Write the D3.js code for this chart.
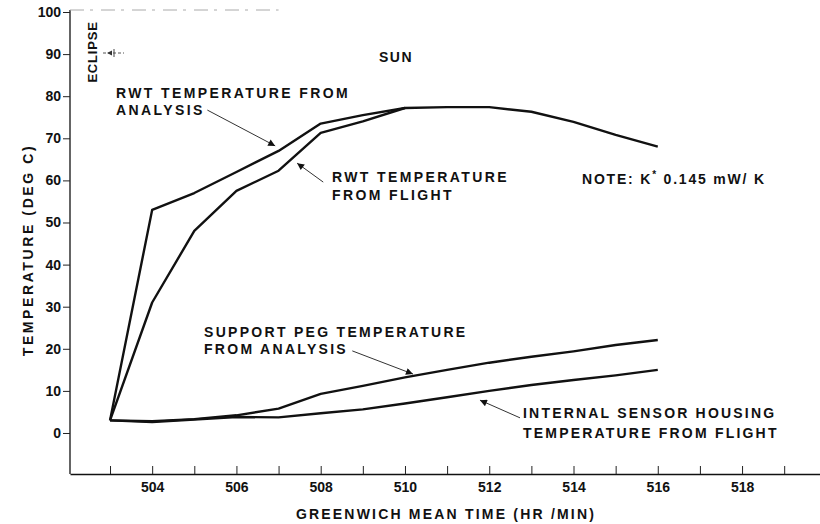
<!DOCTYPE html>
<html>
<head>
<meta charset="utf-8">
<script src="https://cdn.jsdelivr.net/npm/d3@7"></script>
<style>
  html, body { margin: 0; padding: 0; background: #fff; }
  svg { display: block; }
  text { font-family: "Liberation Sans", Arial, Helvetica, sans-serif; font-weight: bold; fill: #111; }
</style>
</head>
<body>
<svg id="chart" width="820" height="524"></svg>
<script>
// ---- Data ----
const times = [503, 504, 505, 506, 507, 508, 509, 510, 511, 512, 513, 514, 515, 516];
const rwtAnalysis = [3, 53, 57, 62, 67, 73.5, 75.5, 77.2, 77.4, 77.4, 76.3, 73.9, 70.8, 68];
const rwtFlightTimes = [503, 504, 505, 506, 507, 508, 509, 510];
const rwtFlight = [3, 31, 48, 57.5, 62.3, 71.3, 74, 77.2];
const pegAnalysis = [3, 2.8, 3.3, 4.2, 5.8, 9.3, 11.2, 13.2, 15, 16.7, 18.1, 19.4, 20.9, 22.1];
const sensorFlight = [3, 2.6, 3.2, 3.8, 3.7, 4.7, 5.6, 7, 8.5, 10, 11.4, 12.6, 13.7, 15];
const xTicks = [503, 504, 505, 506, 507, 508, 509, 510, 511, 512, 513, 514, 515, 516, 517, 518, 519];
const xTickLabels = [504, 506, 508, 510, 512, 514, 516, 518];
const yTicks = [0, 10, 20, 30, 40, 50, 60, 70, 80, 90, 100];

const svg = d3.select("#chart");

const x = d3.scaleLinear().domain([502.05, 519.85]).range([70, 820]);
const y = d3.scaleLinear().domain([-9.74, 100]).range([474, 12]);

// ---- Axes ----
const xAxis = d3.axisBottom(x)
  .tickValues(xTicks)
  .tickSizeInner(-8).tickSizeOuter(0)
  .tickFormat(d => xTickLabels.includes(d) ? String(d) : "");
const gx = svg.append("g").attr("transform", `translate(0,${y(-9.74)})`).call(xAxis);
gx.select(".domain").attr("stroke", "#111").attr("stroke-width", 1.3);
gx.selectAll(".tick line").attr("stroke", "#222").attr("stroke-width", 1);
gx.selectAll(".tick text").attr("dy", "0.4em").attr("y", 12)
  .style("font-size", "14px").style("font-family", "Liberation Sans, Arial, sans-serif").style("font-weight", "bold").attr("fill", "#111");

const yAxis = d3.axisLeft(y).tickValues(yTicks).tickSizeInner(7).tickSizeOuter(0).tickPadding(2);
const gy = svg.append("g").attr("transform", `translate(${x(502.05)},0)`).call(yAxis);
gy.select(".domain").attr("stroke", "#111").attr("stroke-width", 1.3)
  .attr("d", `M0,${y(-9.74)}V${y(100) - 2}`);
gy.selectAll(".tick line").attr("stroke", "#222").attr("stroke-width", 1);
gy.selectAll(".tick text")
  .style("font-size", "14px").style("font-family", "Liberation Sans, Arial, sans-serif").style("font-weight", "bold").attr("fill", "#111");

// faint top frame remnant
svg.append("line")
  .attr("x1", x(502.05)).attr("x2", x(507)).attr("y1", y(100) - 2).attr("y2", y(100) - 2)
  .attr("stroke", "#aaa").attr("stroke-width", 1).attr("stroke-dasharray", "14,6,3,8");

// ---- Axis titles ----
svg.append("text")
  .attr("x", 446).attr("y", 519).attr("text-anchor", "middle")
  .style("font-size", "14px").style("letter-spacing", "2.2px")
  .text("GREENWICH MEAN TIME (HR /MIN)");
svg.append("text")
  .attr("transform", "translate(33,250) rotate(-90)").attr("text-anchor", "middle")
  .style("font-size", "14px").style("letter-spacing", "2.6px")
  .text("TEMPERATURE (DEG C)");

// ---- Curves ----
const line = d3.line().x(d => x(d[0])).y(d => y(d[1]));
const series = [
  times.map((t, i) => [t, rwtAnalysis[i]]),
  rwtFlightTimes.map((t, i) => [t, rwtFlight[i]]),
  times.map((t, i) => [t, pegAnalysis[i]]),
  times.map((t, i) => [t, sensorFlight[i]])
];
svg.append("g").selectAll("path").data(series).join("path")
  .attr("d", line).attr("fill", "none").attr("stroke", "#111")
  .attr("stroke-width", 2.4).attr("stroke-linejoin", "round");

// ---- Arrow marker ----
svg.append("defs").append("marker")
  .attr("id", "ah").attr("viewBox", "0 0 10 10").attr("refX", 10).attr("refY", 5)
  .attr("markerWidth", 11).attr("markerHeight", 7).attr("markerUnits", "userSpaceOnUse")
  .attr("orient", "auto")
  .append("path").attr("d", "M0,0L10,5L0,10z").attr("fill", "#111");

const arrows = [
  { from: [505.31, 76.7], to: [506.92, 68.2] },
  { from: [508.06, 59.6], to: [507.44, 64.1] },
  { from: [508.75, 19.5], to: [510.19, 14.0] },
  { from: [512.73, 3.6], to: [511.78, 7.8] }
];
svg.append("g").selectAll("line").data(arrows).join("line")
  .attr("x1", d => x(d.from[0])).attr("y1", d => y(d.from[1]))
  .attr("x2", d => x(d.to[0])).attr("y2", d => y(d.to[1]))
  .attr("stroke", "#333").attr("stroke-width", 1).attr("marker-end", "url(#ah)");

// ---- Annotations ----
function label(lines, x0, y0, ls, dy) {
  const t = svg.append("text").attr("x", x0).attr("y", y0)
    .style("font-size", "14px").style("letter-spacing", ls + "px");
  lines.forEach((s, i) => t.append("tspan").attr("x", x0).attr("dy", i === 0 ? 0 : dy).text(s));
}
label(["RWT TEMPERATURE FROM", "ANALYSIS"], 116, 98, 2.4, 17);
label(["RWT TEMPERATURE", "FROM FLIGHT"], 332, 182, 2.4, 18);
label(["SUPPORT PEG TEMPERATURE", "FROM ANALYSIS"], 204, 337, 2.3, 17);
label(["INTERNAL SENSOR HOUSING", "TEMPERATURE FROM FLIGHT"], 523, 418, 2.2, 20);

svg.append("text").attr("x", 396).attr("y", 62).attr("text-anchor", "middle")
  .style("font-size", "14px").style("letter-spacing", "1.5px").text("SUN");

const note = svg.append("text").attr("x", 582).attr("y", 184).style("font-size", "14px").style("letter-spacing", "1.8px");
note.append("tspan").text("NOTE: K");
note.append("tspan").attr("dy", -6).style("font-size", "10px").text("*");
note.append("tspan").attr("dy", 6).text("  0.145 mW/ K");

svg.append("text").attr("transform", "translate(97,52) rotate(-90)").attr("text-anchor", "middle")
  .style("font-size", "13px").style("letter-spacing", "0.8px").text("ECLIPSE");
svg.append("line").attr("x1", 103).attr("x2", 124).attr("y1", 53).attr("y2", 53)
  .attr("stroke", "#555").attr("stroke-width", 1).attr("stroke-dasharray", "3,2");
svg.append("path").attr("d", "M107,53L112,50.5L112,55.5z").attr("fill", "#333");
svg.append("line").attr("x1", 114).attr("x2", 114).attr("y1", 49).attr("y2", 57)
  .attr("stroke", "#444").attr("stroke-width", 1);
</script>
</body>
</html>
